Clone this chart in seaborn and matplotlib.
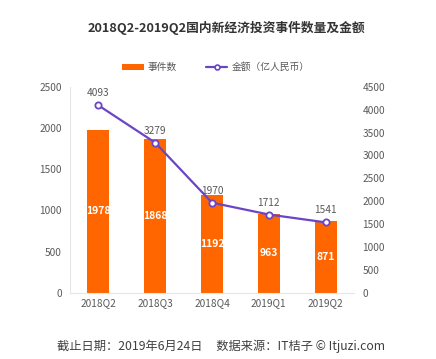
import matplotlib
matplotlib.use("Agg")
import matplotlib.pyplot as plt
import seaborn as sns
import numpy as np
import pandas as pd
from matplotlib.patches import Patch
from matplotlib.lines import Line2D

categories = ["2018Q2", "2018Q3", "2018Q4", "2019Q1", "2019Q2"]
event_counts = [1978, 1868, 1192, 963, 871]
amounts = [4093, 3279, 1970, 1712, 1541]
left_ticks = [0, 500, 1000, 1500, 2000, 2500]
right_ticks = [0, 500, 1000, 1500, 2000, 2500, 3000, 3500, 4000, 4500]

title = "2018Q2-2019Q2国内新经济投资事件数量及金额"
bar_label = "事件数"
line_label = "金额（亿人民币）"
footer = "截止日期：2019年6月24日     数据来源：IT桔子 © Itjuzi.com"

sns.set_theme(style="white")
plt.rcParams['font.family'] = ['Noto Sans CJK SC', 'DejaVu Sans']

ORANGE = "#FF6600"
PURPLE = "#6A45C6"
TICK = "#595959"

fig = plt.figure(figsize=(4.36, 3.59), dpi=100)
fig.patch.set_facecolor("white")
ax = fig.add_axes([0.1606, 0.1838, 0.6514, 0.5747])

df = pd.DataFrame({"cat": categories, "count": event_counts, "amount": amounts})
sns.barplot(data=df, x="cat", y="count", color=ORANGE, width=0.39, ax=ax,
            saturation=1, edgecolor="none")
ax.set_ylim(0, 2500)
ax.set_yticks(left_ticks)
ax.set_xlim(-0.5, 4.5)
ax.set_xlabel("")
ax.set_ylabel("")
ax.tick_params(axis="both", length=0, colors=TICK, labelsize=7.3)
ax.tick_params(axis="y", pad=6)
ax.tick_params(axis="x", pad=4)
for s in ["top", "right"]:
    ax.spines[s].set_visible(False)
for s in ["left", "bottom"]:
    ax.spines[s].set_color("#e6e6e6")
    ax.spines[s].set_linewidth(0.8)

for i, v in enumerate(event_counts):
    ax.text(i, v / 2, str(v), ha="center", va="center", color="white",
            fontsize=7.5, fontweight="bold")

ax2 = ax.twinx()
ldf = pd.DataFrame({"x": np.arange(len(categories)), "amount": amounts})
sns.lineplot(data=ldf, x="x", y="amount", ax=ax2, color=PURPLE, linewidth=1.6,
             marker="o", markersize=4.5, markerfacecolor="white",
             markeredgecolor=PURPLE, markeredgewidth=1.3)
ax2.set_ylim(0, 4500)
ax2.set_yticks(right_ticks)
ax2.set_xlim(-0.5, 4.5)
ax2.set_xlabel("")
ax2.set_ylabel("")
ax2.tick_params(axis="y", length=0, colors=TICK, labelsize=7.3, pad=6)
for s in ["top", "right", "left", "bottom"]:
    ax2.spines[s].set_visible(False)
for i, v in enumerate(amounts):
    ax2.text(i, v + 260, str(v), ha="center", va="center", color=TICK, fontsize=7.3)

fig.text(0.52, 0.922, title, ha="center", va="center", fontsize=9.2,
         fontweight="bold", color="#333333")

handles = [Patch(facecolor=ORANGE, edgecolor="none"),
           Line2D([0], [0], color=PURPLE, linewidth=1.6, marker="o", markersize=3.5,
                  markerfacecolor="white", markeredgecolor=PURPLE, markeredgewidth=1.2)]
fig.legend(handles, [bar_label, line_label], loc="center", ncol=2,
           bbox_to_anchor=(0.495, 0.813), frameon=False, fontsize=7,
           labelcolor=TICK, handlelength=2.2, handleheight=0.6,
           columnspacing=3.0, handletextpad=0.4)

fig.text(0.508, 0.036, footer, ha="center", va="center", fontsize=8.8, color="#404040")

fig.savefig("out.png", dpi=100, facecolor="white")
